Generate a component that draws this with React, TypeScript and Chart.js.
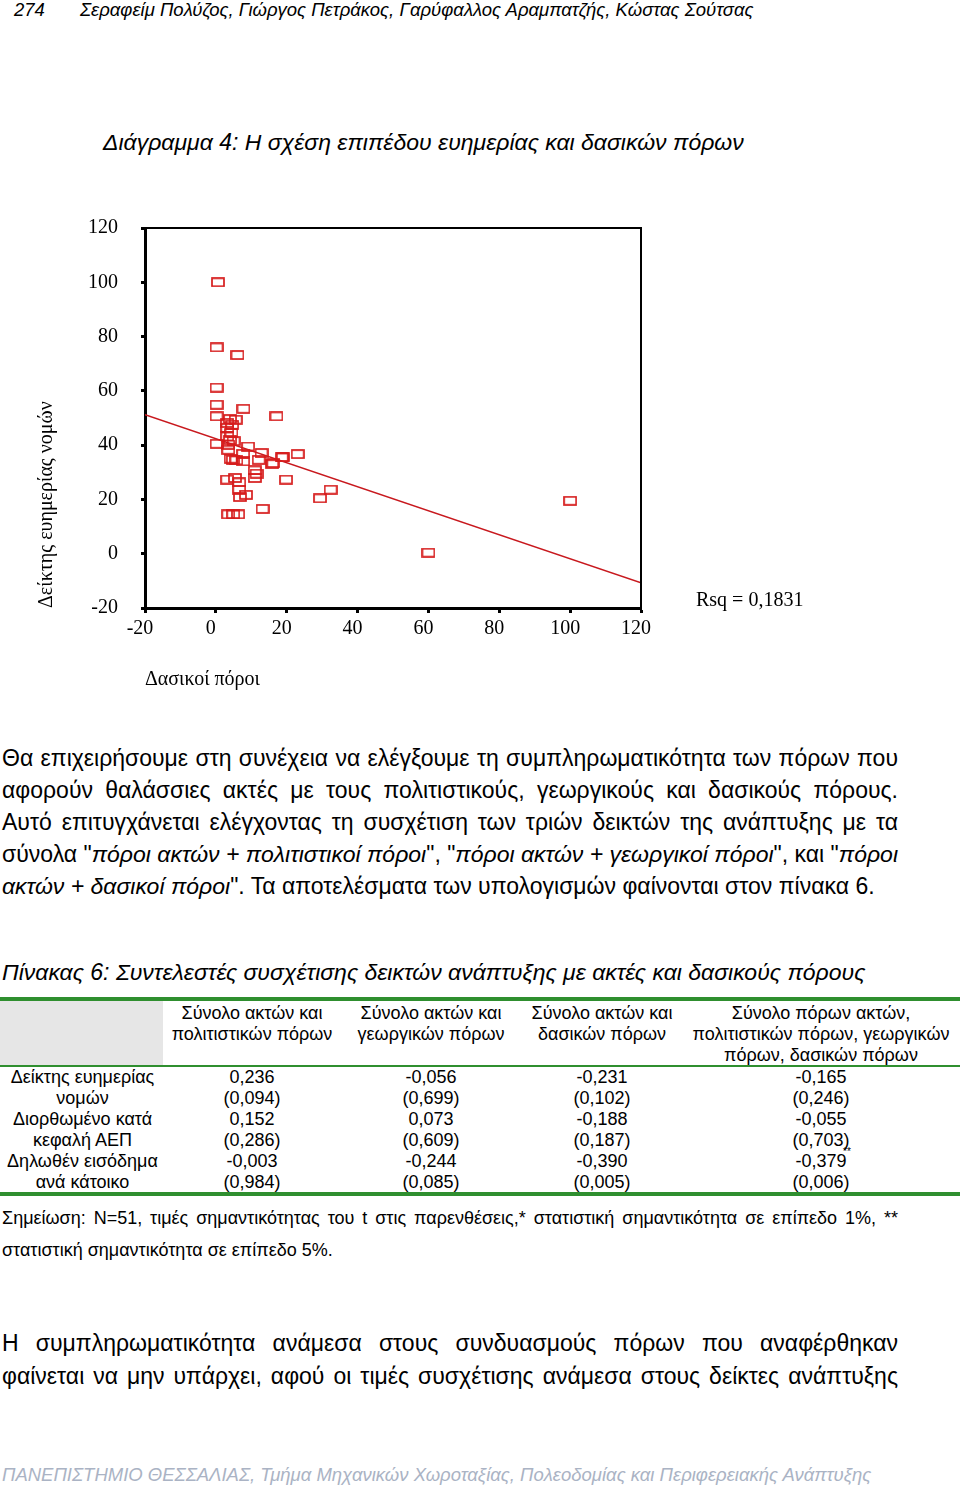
import React, { useEffect, useRef } from 'react';
import { Chart, registerables } from 'chart.js';

Chart.register(...registerables);

// ---- chart data ----
const forestX = [
  0.6, 0.2, 6.1, 0.2, 0.2, 7.8, 0.2, 17.1, 4.0, 5.6,
  3.2, 3.2, 4.4, 3.2, 4.0, 0.2, 3.5, 3.5, 9.1, 7.7,
  12.9, 4.2, 5.8, 7.7, 12.1, 16.2, 18.6, 18.9, 23.1, 11.0,
  11.0, 3.2, 5.4, 6.6, 19.8, 6.6, 8.5, 6.8, 29.4, 32.4,
  13.2, 3.5, 4.9, 6.3, 60.0, 100.0, 4.6, 5.0, 4.8, 11.5, 15.9,
];
const welfareY = [
  100, 76, 73.2, 61.2, 54.9, 53.4, 50.6, 50.6, 49.6, 49.4,
  48.2, 46.3, 44.5, 43.2, 42, 40.5, 40.2, 38.3, 39.5, 36.8,
  37.1, 35, 34.4, 34, 34.6, 33.4, 35.5, 35.6, 36.7, 30.7,
  27.9, 27.3, 27.9, 26.3, 27.3, 23.6, 21.7, 20.9, 20.4, 23.6,
  16.5, 14.5, 14.5, 14.5, 0.4, 19.5, 47.5, 41.5, 34.6, 29.5, 33.0,
];
const fitX = [-20, 120];
const fitY = [51.2, -10.7];
const axisMin = -20;
const axisMax = 120;
const axisStep = 20;
const xTitle = 'Δασικοί πόροι';
const yTitle = 'Δείκτης ευημερίας νομών';
const rsqLabel = 'Rsq = 0,1831';

// ---- table data ----
const tableHeaders = [
  ['Σύνολο ακτών και', 'πολιτιστικών πόρων'],
  ['Σύνολο ακτών και', 'γεωργικών πόρων'],
  ['Σύνολο ακτών και', 'δασικών πόρων'],
  ['Σύνολο πόρων ακτών,', 'πολιτιστικών πόρων, γεωργικών', 'πόρων, δασικών πόρων'],
];
const rowLabels = ['Δείκτης ευημερίας', 'νομών', 'Διορθωμένο κατά', 'κεφαλή ΑΕΠ', 'Δηλωθέν εισόδημα', 'ανά κάτοικο'];
const tableValues = [
  ['0,236', '-0,056', '-0,231', '-0,165'],
  ['(0,094)', '(0,699)', '(0,102)', '(0,246)'],
  ['0,152', '0,073', '-0,188', '-0,055'],
  ['(0,286)', '(0,609)', '(0,187)', '(0,703)'],
  ['-0,003', '-0,244', '-0,390', '-0,379'],
  ['(0,984)', '(0,085)', '(0,005)', '(0,006)'],
];

const SANS = '"Liberation Sans", Arial, sans-serif';
const SERIF = '"Liberation Serif", "Times New Roman", serif';

function ScatterChart() {
  const ref = useRef<HTMLCanvasElement>(null);
  useEffect(() => {
    const marker = document.createElement('canvas');
    marker.width = 14;
    marker.height = 10;
    const mc = marker.getContext('2d')!;
    mc.strokeStyle = '#d61c1c';
    mc.lineWidth = 1.7;
    mc.strokeRect(1, 1, 12, 8);

    const frame = {
      id: 'frame',
      afterDraw(chart: any) {
        const { ctx, chartArea: a } = chart;
        ctx.save();
        ctx.strokeStyle = '#000';
        ctx.lineWidth = 2;
        ctx.beginPath();
        ctx.moveTo(a.left, a.top);
        ctx.lineTo(a.right, a.top);
        ctx.lineTo(a.right, a.bottom);
        ctx.stroke();
        ctx.restore();
      },
    };

    const tickFont = { family: '"Liberation Serif", serif', size: 20 };
    const chart = new Chart(ref.current!, {
      type: 'scatter',
      data: {
        datasets: [
          {
            type: 'line',
            data: fitX.map((x, i) => ({ x, y: fitY[i] })),
            borderColor: '#c8191e',
            borderWidth: 1.6,
            pointRadius: 0,
            fill: false,
            order: 2,
          } as any,
          {
            data: forestX.map((x, i) => ({ x, y: welfareY[i] })),
            pointStyle: marker as any,
            pointRadius: 6,
            order: 1,
          },
        ],
      },
      options: {
        responsive: false,
        animation: false,
        events: [],
        layout: { padding: { left: 0, top: 28, right: 319, bottom: 0 } },
        plugins: { legend: { display: false }, tooltip: { enabled: false } },
        scales: {
          x: {
            type: 'linear',
            min: axisMin,
            max: axisMax,
            ticks: { stepSize: axisStep, color: '#000', font: tickFont, padding: 4, labelOffset: -5 },
            grid: { drawOnChartArea: false, drawTicks: true, tickLength: 5, tickWidth: 3, tickColor: '#000' },
            border: { display: true, color: '#000', width: 3 },
            title: {
              display: true,
              text: xTitle,
              align: 'start',
              color: '#000',
              font: tickFont,
              padding: { top: 0, bottom: 8 },
            },
            afterFit: (s: any) => {
              s.height = 92;
            },
          },
          y: {
            type: 'linear',
            min: axisMin,
            max: axisMax,
            ticks: { stepSize: axisStep, color: '#000', font: tickFont, padding: 23 },
            grid: { drawOnChartArea: false, drawTicks: true, tickLength: 4, tickWidth: 3, tickColor: '#000' },
            border: { display: true, color: '#000', width: 3 },
            title: {
              display: true,
              text: yTitle,
              align: 'start',
              color: '#000',
              font: tickFont,
              padding: { top: 35, bottom: 0 },
            },
            afterFit: (s: any) => {
              s.width = 145;
              s.paddingTop = 0;
              s.paddingBottom = 0;
            },
          },
        },
      } as any,
      plugins: [frame],
    });
    return () => chart.destroy();
  }, []);
  return (
    <canvas
      ref={ref}
      width={960}
      height={500}
      style={{ position: 'absolute', left: 0, top: 200, width: 960, height: 500 }}
    />
  );
}

function T(props: {
  x: number;
  y: number;
  size: number;
  italic?: boolean;
  family?: string;
  color?: string;
  width?: number;
  justify?: boolean;
  center?: boolean;
  children: React.ReactNode;
}) {
  const lh = Math.round(props.size * 1.4);
  return (
    <div
      style={{
        position: 'absolute',
        left: props.x,
        top: props.y - lh / 2,
        width: props.width,
        height: lh,
        lineHeight: `${lh}px`,
        fontSize: props.size,
        fontFamily: props.family || SANS,
        fontStyle: props.italic ? 'italic' : 'normal',
        color: props.color || '#000',
        whiteSpace: 'nowrap',
        textAlign: props.center ? 'center' : props.justify ? 'justify' : 'left',
        textAlignLast: props.center ? 'center' : props.justify ? 'justify' : 'left',
      } as any}
    >
      {props.children}
    </div>
  );
}

const bodyLines = [
  'Θα επιχειρήσουμε στη συνέχεια να ελέγξουμε τη συμπληρωματικότητα των πόρων που',
  'αφορούν θαλάσσιες ακτές με τους πολιτιστικούς, γεωργικούς και δασικούς πόρους.',
  'Αυτό επιτυγχάνεται ελέγχοντας τη συσχέτιση των τριών δεικτών της ανάπτυξης με τα',
];

export default function App() {
  const colCenters = [252, 431, 602, 821];
  const colWidths = [200, 200, 200, 300];
  const headerY = [1013, 1034, 1055];
  const rowY = [1077, 1098, 1119, 1140, 1161, 1182];
  const green = '#2f8f2f';
  return (
    <div style={{ position: 'absolute', left: 0, top: 0, width: 960, height: 1491, background: '#fff', overflow: 'hidden' }}>
      <T x={14} y={10} size={18.5} italic>274</T>
      <T x={80} y={10} size={18.5} italic>
        Σεραφείμ Πολύζος, Γιώργος Πετράκος, Γαρύφαλλος Αραμπατζής, Κώστας Σούτσας
      </T>
      <T x={103} y={142} size={23} italic>
        Διάγραμμα 4: Η σχέση επιπέδου ευημερίας και δασικών πόρων
      </T>

      <ScatterChart />
      <T x={696} y={599} size={20} family={SERIF}>{rsqLabel}</T>

      {bodyLines.map((l, i) => (
        <T key={i} x={2} y={758 + i * 32} size={23} width={896} justify>
          {l}
        </T>
      ))}
      <T x={2} y={854} size={23} width={896} justify>
        σύνολα "<i>πόροι ακτών + πολιτιστικοί πόροι</i>", "<i>πόροι ακτών + γεωργικοί πόροι</i>", και "<i>πόροι</i>
      </T>
      <T x={2} y={886} size={23}>
        <i>ακτών + δασικοί πόροι</i>". Τα αποτελέσματα των υπολογισμών φαίνονται στον πίνακα 6.
      </T>

      <T x={2} y={972} size={23} italic>
        Πίνακας 6: Συντελεστές συσχέτισης δεικτών ανάπτυξης με ακτές και δασικούς πόρους
      </T>

      {/* table */}
      <div style={{ position: 'absolute', left: 0, top: 1001, width: 163, height: 64, background: '#e6e6e6' }} />
      <div style={{ position: 'absolute', left: 0, top: 997, width: 960, height: 4, background: green }} />
      <div style={{ position: 'absolute', left: 0, top: 1065, width: 960, height: 2, background: green }} />
      <div style={{ position: 'absolute', left: 0, top: 1192, width: 960, height: 4, background: green }} />
      {tableHeaders.map((lines, c) =>
        lines.map((l, k) => (
          <T key={`h${c}${k}`} x={colCenters[c] - colWidths[c] / 2} y={headerY[k]} size={18} width={colWidths[c]} center>
            {l}
          </T>
        ))
      )}
      {rowLabels.map((l, r) => (
        <T key={`r${r}`} x={0} y={rowY[r]} size={18} width={165} center>
          {l}
        </T>
      ))}
      {tableValues.map((row, r) =>
        row.map((v, c) => (
          <T key={`v${r}${c}`} x={colCenters[c] - colWidths[c] / 2} y={rowY[r]} size={18} width={colWidths[c]} center>
            {v}
          </T>
        ))
      )}
      <T x={843} y={1152} size={10}>**</T>

      <T x={2} y={1218} size={18} width={896} justify>
        Σημείωση: N=51, τιμές σημαντικότητας του t στις παρενθέσεις,* στατιστική σημαντικότητα σε επίπεδο 1%, **
      </T>
      <T x={2} y={1250} size={18}>
        στατιστική σημαντικότητα σε επίπεδο 5%.
      </T>

      <T x={2} y={1343} size={23} width={896} justify>
        Η συμπληρωματικότητα ανάμεσα στους συνδυασμούς πόρων που αναφέρθηκαν
      </T>
      <T x={2} y={1376} size={23} width={896} justify>
        φαίνεται να μην υπάρχει, αφού οι τιμές συσχέτισης ανάμεσα στους δείκτες ανάπτυξης
      </T>

      <T x={2} y={1475} size={18.5} italic color="#aab3c4">
        ΠΑΝΕΠΙΣΤΗΜΙΟ ΘΕΣΣΑΛΙΑΣ, Τμήμα Μηχανικών Χωροταξίας, Πολεοδομίας και Περιφερειακής Ανάπτυξης
      </T>
    </div>
  );
}
